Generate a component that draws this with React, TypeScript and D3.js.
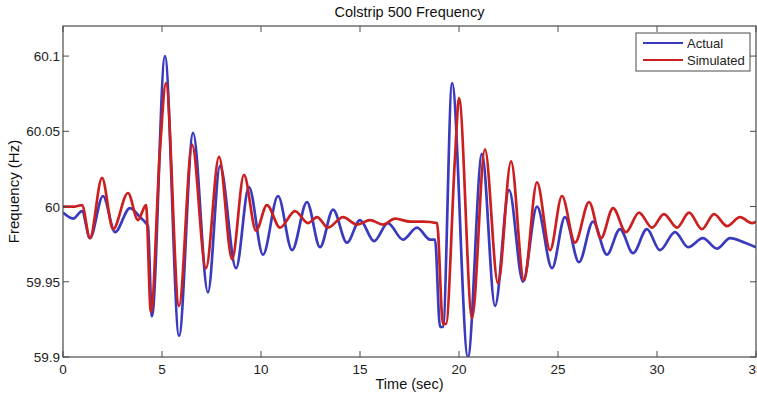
import * as d3 from 'd3';

// Colstrip 500 bus frequency (time in sec, frequency in Hz)
const actualTime = [
  0, 0.51, 0.96, 1.36, 2.02, 2.63, 3.38, 3.89, 4.19, 4.29, 4.49, 5.15, 5.86, 6.57, 7.32, 7.93,
  8.74, 9.39, 10.1, 10.86, 11.57, 12.32, 12.98, 13.64, 14.34, 15.0, 15.71, 16.41, 17.17, 17.88,
  18.54, 18.79, 19.04, 19.19, 19.65, 20.45, 21.16, 21.82, 22.53, 23.23, 23.94, 24.7, 25.35,
  26.06, 26.77, 27.47, 28.13, 28.79, 29.49, 30.15, 30.91, 31.57, 32.32, 33.03, 33.69, 34.44, 35.0,
];
const actualFreq = [
  59.996, 59.992, 59.997, 59.979, 60.007, 59.983, 59.999, 59.993, 59.989, 59.987, 59.927, 60.1,
  59.914, 60.049, 59.943, 60.027, 59.959, 60.013, 59.968, 60.007, 59.971, 60.003, 59.973, 59.998,
  59.976, 59.991, 59.977, 59.989, 59.978, 59.986, 59.978, 59.978, 59.92, 59.92, 60.082, 59.9,
  60.035, 59.934, 60.011, 59.95, 60.0, 59.959, 59.993, 59.963, 59.99, 59.968, 59.985, 59.969,
  59.985, 59.971, 59.983, 59.973, 59.979, 59.972, 59.979, 59.976, 59.973,
];

const simTime = [
  0, 0.61, 0.96, 1.36, 1.97, 2.53, 3.28, 3.79, 4.19, 4.44, 4.9, 5.2, 5.86, 6.52, 7.22, 7.88,
  8.54, 9.14, 9.75, 10.3, 10.96, 11.72, 12.37, 12.83, 13.38, 14.14, 14.85, 15.51, 16.16, 16.77,
  17.53, 18.18, 18.89, 19.19, 19.34, 19.8, 20.0, 20.66, 21.31, 21.97, 22.63, 23.28, 23.94, 24.6,
  25.2, 25.86, 26.57, 27.17, 27.78, 28.43, 29.09, 29.75, 30.35, 31.01, 31.62, 32.27, 32.88,
  33.54, 34.19, 34.8, 35.0,
];
const simFreq = [
  60.0, 60.0, 60.001, 59.979, 60.019, 59.985, 60.009, 59.991, 60.001, 59.93, 60.038, 60.082,
  59.934, 60.041, 59.959, 60.033, 59.965, 60.021, 59.984, 60.001, 59.986, 59.997, 59.989, 59.993,
  59.986, 59.993, 59.988, 59.991, 59.988, 59.992, 59.99, 59.99, 59.989, 59.922, 59.922, 60.033,
  60.072, 59.926, 60.038, 59.949, 60.03, 59.951, 60.016, 59.971, 60.007, 59.976, 60.003, 59.979,
  59.999, 59.983, 59.996, 59.986, 59.995, 59.986, 59.996, 59.985, 59.995, 59.987, 59.993,
  59.989, 59.99,
];

const xTicks = [0, 5, 10, 15, 20, 25, 30, 35];
const yTicks = [59.9, 59.95, 60, 60.05, 60.1];
const yTickLabels = ['59.9', '59.95', '60', '60.05', '60.1'];

const seriesNames = ['Actual', 'Simulated'];
const seriesColors = ['#3a3abf', '#cc2020'];

export default function App() {
  const width = 757;
  const height = 397;
  const margin = { top: 26, right: 1, bottom: 40, left: 63 };
  const x0 = margin.left;
  const x1 = width - margin.right;
  const y0 = height - margin.bottom;
  const y1 = margin.top;

  const x = d3.scaleLinear().domain([0, 35]).range([x0, x1]);
  const y = d3.scaleLinear().domain([59.9, 60.12]).range([y0, y1]);

  const line = d3
    .line<[number, number]>()
    .x((d) => x(d[0]))
    .y((d) => y(d[1]))
    .curve(d3.curveMonotoneX);

  const actual = actualTime.map((t, i) => [t, actualFreq[i]] as [number, number]);
  const simulated = simTime.map((t, i) => [t, simFreq[i]] as [number, number]);

  const font = '"Liberation Sans", Arial, sans-serif';
  const axisColor = '#4a4a4a';
  const tickLen = 6;

  return (
    <svg
      width={width}
      height={height}
      style={{ position: 'absolute', left: 0, top: 0, background: '#fff' }}
      fontFamily={font}
    >
      <defs>
        <clipPath id="plot-clip">
          <rect x={x0} y={y1} width={x1 - x0} height={y0 - y1} />
        </clipPath>
      </defs>

      {/* Lines */}
      <g clipPath="url(#plot-clip)" fill="none" strokeWidth={2.7} strokeLinejoin="round">
        <path d={line(actual) ?? ''} stroke={seriesColors[0]} />
        <path d={line(simulated) ?? ''} stroke={seriesColors[1]} />
      </g>

      {/* Box and ticks */}
      <rect x={x0} y={y1} width={x1 - x0} height={y0 - y1} fill="none" stroke={axisColor} strokeWidth={1.2} />
      {xTicks.map((t) => (
        <g key={`xt${t}`} stroke={axisColor} strokeWidth={1}>
          <line x1={x(t)} x2={x(t)} y1={y0} y2={y0 - tickLen} />
          <line x1={x(t)} x2={x(t)} y1={y1} y2={y1 + tickLen} />
        </g>
      ))}
      {yTicks.map((v) => (
        <g key={`yt${v}`} stroke={axisColor} strokeWidth={1}>
          <line x1={x0} x2={x0 + tickLen} y1={y(v)} y2={y(v)} />
          <line x1={x1} x2={x1 - tickLen} y1={y(v)} y2={y(v)} />
        </g>
      ))}

      {/* Tick labels */}
      {xTicks.map((t) => (
        <text key={`xl${t}`} x={x(t)} y={y0 + 17} textAnchor="middle" fontSize={13.5} fill="#222">
          {t}
        </text>
      ))}
      {yTicks.map((v, i) => (
        <text key={`yl${v}`} x={x0 - 3} y={y(v) + 5} textAnchor="end" fontSize={13.5} fill="#222">
          {yTickLabels[i]}
        </text>
      ))}

      {/* Titles */}
      <text x={(x0 + x1) / 2} y={17} textAnchor="middle" fontSize={14.5} fill="#111">
        Colstrip 500 Frequency
      </text>
      <text x={(x0 + x1) / 2} y={389} textAnchor="middle" fontSize={14.5} fill="#111">
        Time (sec)
      </text>
      <text
        transform={`translate(19,${(y0 + y1) / 2}) rotate(-90)`}
        textAnchor="middle"
        fontSize={15}
        fill="#111"
      >
        Frequency (Hz)
      </text>

      {/* Legend */}
      <g>
        <rect x={636} y={33} width={114} height={38} fill="#fff" stroke={axisColor} strokeWidth={1} />
        {seriesNames.map((name, i) => (
          <g key={name}>
            <line x1={643} x2={683} y1={43 + i * 17} y2={43 + i * 17} stroke={seriesColors[i]} strokeWidth={2.2} />
            <text x={687} y={47.5 + i * 17} fontSize={13} fill="#222">
              {name}
            </text>
          </g>
        ))}
      </g>
    </svg>
  );
}
